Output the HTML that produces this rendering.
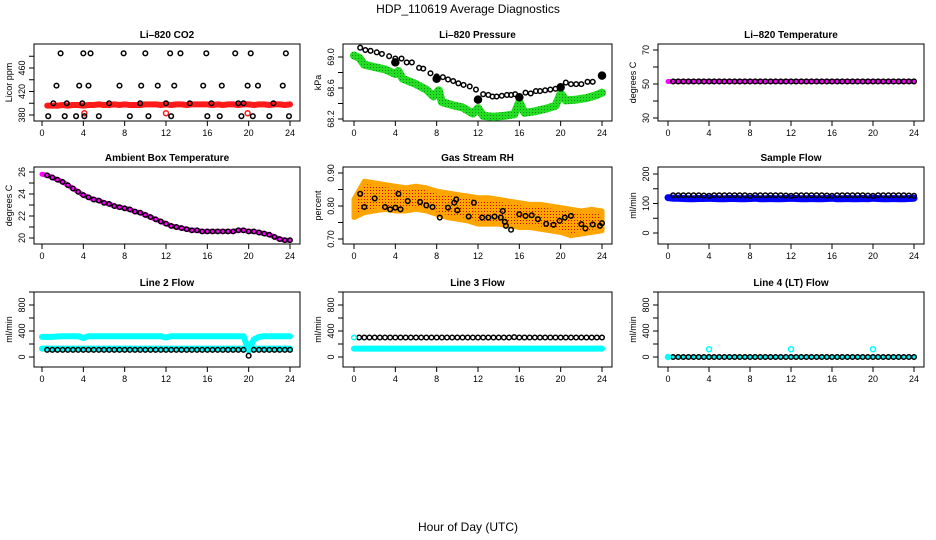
<!DOCTYPE html>
<html><head><meta charset="utf-8"><style>
html,body{margin:0;padding:0;background:#fff}
svg{display:block;font-family:"Liberation Sans",Arial,sans-serif}
</style></head><body>
<svg id="c" width="936" height="540" viewBox="0 0 936 540">
<text x="468" y="13" text-anchor="middle" font-size="12">HDP_110619  Average Diagnostics</text>
<text x="468" y="531" text-anchor="middle" font-size="12">Hour of Day (UTC)</text>
</svg>
<script>
// shared hour grid (half-hour)
const H=[0.5,1,1.5,2,2.5,3,3.5,4,4.5,5,5.5,6,6.5,7,7.5,8,8.5,9,9.5,10,10.5,11,11.5,12,12.5,13,13.5,14,14.5,15,15.5,16,16.5,17,17.5,18,18.5,19,19.5,20,20.5,21,21.5,22,22.5,23,23.5,24];
const xTicks=[0,4,8,12,16,20,24];
// CO2
const co2BlackH=[0.6,1.1,1.4,1.8,2.2,2.4,3.3,3.6,3.9,4.0,4.1,4.5,4.7,5.5,6.5,7.5,7.9,8.5,9.5,9.6,10,10.3,11.2,12,12.4,12.5,12.8,13.4,14.3,15.6,15.9,16,16.4,17.2,17.4,18.7,19,19.3,19.5,19.9,20.2,20.4,20.9,22,22.4,23.3,23.6,23.9];
const co2BlackV=[378,400,430,485,378,400,378,430,400,485,378,430,485,378,400,430,485,378,400,430,485,378,430,400,485,378,430,485,400,430,485,378,400,378,430,485,400,378,400,430,485,378,430,378,400,430,485,378];
const co2Red=[396,396,396,397,396,397,397,396,397,397,398,397,397,398,397,398,397,397,397,398,398,398,397,398,397,398,398,397,398,398,398,398,397,398,397,398,398,397,398,398,397,398,398,397,398,398,397,398];
const co2RedDipH=[4.1,12,19.9];
const co2RedDipV=[383,383,383];
// Pressure
const presBlackH=[0.6,1.1,1.6,2.2,2.7,3.4,4,4.6,5.1,5.6,6.3,6.7,7.4,8,8.6,9.1,9.6,10.1,10.6,11.2,11.8,12.5,13,13.4,13.8,14.3,14.8,15.2,15.6,16.6,17.1,17.6,18,18.5,19,19.5,20.5,21,21.5,22,22.6,23.1];
const presBlackV=[69.12,69.09,69.08,69.06,69.04,69.01,68.98,68.98,68.93,68.93,68.86,68.85,68.79,68.75,68.74,68.71,68.69,68.66,68.64,68.62,68.58,68.52,68.51,68.49,68.49,68.50,68.51,68.51,68.52,68.54,68.53,68.56,68.56,68.57,68.58,68.59,68.67,68.65,68.65,68.65,68.68,68.68];
const presBigH=[4,8,12,16,20,24];
const presBigV=[68.93,68.72,68.45,68.48,68.61,68.76];
const presGreenH=[0,0.5,1,2,3,4,4.3,4.7,6,7,7.7,8.2,8.5,9.5,10.5,11.5,12,12.5,13.5,14.5,15.5,16,16.5,17.5,18.5,19.5,20,20.5,21.5,22.5,23.5,24];
const presGreenV=[69.02,68.99,68.90,68.87,68.84,68.78,68.82,68.72,68.65,68.58,68.49,68.57,68.42,68.38,68.35,68.27,68.34,68.24,68.23,68.24,68.26,68.42,68.28,68.30,68.33,68.37,68.53,68.44,68.45,68.47,68.51,68.54];
// Temperature
const tempV=[51.5,51.5,51.5,51.5,51.5,51.5,51.5,51.5,51.5,51.5,51.5,51.5,51.5,51.5,51.5,51.5,51.5,51.5,51.5,51.5,51.5,51.5,51.5,51.5,51.5,51.5,51.5,51.5,51.5,51.5,51.5,51.5,51.5,51.5,51.5,51.5,51.5,51.5,51.5,51.5,51.5,51.5,51.5,51.5,51.5,51.5,51.5,51.5];
// Ambient box temperature
const ambH=[0,0.5,1,1.5,2,2.5,3,3.5,4,4.5,5,5.5,6,6.5,7,7.5,8,8.5,9,9.5,10,10.5,11,11.5,12,12.5,13,13.5,14,14.5,15,15.5,16,16.5,17,17.5,18,18.5,19,19.5,20,20.5,21,21.5,22,22.5,23,23.5,24];
const ambV=[25.8,25.7,25.5,25.3,25.1,24.8,24.5,24.2,23.9,23.7,23.5,23.4,23.2,23.1,22.9,22.8,22.7,22.6,22.4,22.3,22.1,21.9,21.7,21.5,21.3,21.1,21.0,20.9,20.8,20.7,20.7,20.6,20.6,20.6,20.6,20.6,20.6,20.6,20.7,20.7,20.6,20.6,20.5,20.4,20.3,20.1,19.9,19.8,19.8];
// Gas stream RH
const rhBandH=[0,1,2,3,4,5,6,7,8,9,10,11,12,13,14,15,16,17,18,19,20,21,22,23,24];
const rhUpper=[0.82,0.875,0.87,0.865,0.86,0.855,0.86,0.855,0.845,0.84,0.835,0.83,0.825,0.825,0.82,0.815,0.81,0.805,0.805,0.80,0.795,0.79,0.785,0.79,0.785];
const rhLower=[0.765,0.78,0.785,0.79,0.785,0.785,0.79,0.785,0.775,0.765,0.76,0.755,0.745,0.745,0.745,0.74,0.735,0.735,0.73,0.725,0.72,0.71,0.715,0.72,0.725];
const rhBlackH=[0.6,1,2,3,3.5,4,4.3,4.5,5.2,6.4,7,7.6,8.3,9.1,9.7,9.9,10,11.1,11.6,12.4,13,13.6,14.2,14.4,14.6,14.7,15.2,16,16.6,17.2,17.8,18.6,19.3,19.9,20.4,21,22,22.4,23.1,23.8,24];
const rhBlackV=[0.837,0.797,0.823,0.797,0.79,0.795,0.837,0.79,0.815,0.812,0.802,0.797,0.765,0.795,0.81,0.82,0.787,0.768,0.81,0.765,0.765,0.768,0.765,0.785,0.752,0.74,0.728,0.775,0.77,0.772,0.76,0.746,0.743,0.755,0.765,0.77,0.745,0.732,0.744,0.74,0.748];
// Sample flow
const sfBlue=[118,118,117,116,116,117,117,118,117,116,116,117,117,116,116,117,118,116,116,117,116,116,117,118,117,116,116,117,116,116,117,118,116,116,117,116,116,117,116,118,117,116,116,117,116,116,117,118];
const sfBlack=[128,128,128,128,128,128,127,126,128,128,128,128,128,128,128,126,128,128,128,128,128,128,127,126,128,128,128,128,128,128,127,126,128,128,128,128,128,128,127,126,128,128,128,128,128,128,127,126];
// Line 2 flow
const l2CyanHi=[310,310,315,320,320,320,320,290,320,320,320,320,320,320,320,320,320,320,320,320,320,320,320,300,320,320,320,320,320,320,320,320,320,320,320,320,320,320,320,100,270,310,320,320,320,320,320,320];
const l2CyanLo=[130,130,130,130,130,130,130,130,130,130,130,130,130,130,130,130,130,130,130,130,130,130,130,130,130,130,130,130,130,130,130,130,130,130,130,130,130,130,130,130,130,130,130,130,130,130,130,130];
const l2Black=[110,110,110,110,110,110,110,110,110,110,110,110,110,110,110,110,110,110,110,110,110,110,110,110,110,110,110,110,110,110,110,110,110,110,110,110,110,110,110,20,110,110,110,110,110,110,110,110];
// Line 3 flow
const l3Black=[300,300,300,300,300,300,300,300,300,300,300,300,300,300,300,300,300,300,300,300,300,300,300,300,300,300,300,300,300,300,305,300,300,300,300,300,300,300,300,300,300,300,300,300,300,300,300,300];
const l3Cyan=[130,130,130,130,130,130,130,130,130,130,130,130,130,130,130,130,130,130,130,130,130,130,130,130,130,130,130,130,130,130,130,130,130,130,130,130,130,130,130,130,130,130,130,130,130,130,130,130];
// Line 4 flow
const l4Black=[0,0,0,0,0,0,0,0,0,0,0,0,0,0,0,0,0,0,0,0,0,0,0,0,0,0,0,0,0,0,0,0,0,0,0,0,0,0,0,0,0,0,0,0,0,0,0,0];
const l4SpikeH=[4,12,20];
const l4SpikeV=[120,120,120];

const NS="http://www.w3.org/2000/svg";
const svg=document.getElementById('c');
function el(tag,attrs,parent){const e=document.createElementNS(NS,tag);for(const k in attrs)e.setAttribute(k,attrs[k]);(parent||svg).appendChild(e);return e;}

const cols=[{x0:34,x1:300,t0:42,t1:290},{x0:343,x1:612,t0:354,t1:602},{x0:658,x1:924,t0:668,t1:914}];
const rows=[{y0:44,y1:121},{y0:167,y1:244},{y0:292,y1:367}];

function panel(name,title,col,row,yMin,yMax,yMinPx,yMaxPx,ticks,labels,ylab){
  const c=cols[col],r=rows[row];
  const g=el('g',{});
  
  
  const xs=h=>c.t0+(c.t1-c.t0)*h/24;
  const ys=v=>yMinPx+(yMaxPx-yMinPx)*(v-yMin)/(yMax-yMin);
  const box=el('rect',{x:c.x0,y:r.y0,width:c.x1-c.x0,height:r.y1-r.y0,fill:'none',stroke:'#000','stroke-width':1},g);
  
  
  const t=el('text',{x:(c.x0+c.x1)/2,y:r.y0-6,'text-anchor':'middle','font-size':10,'font-weight':'bold'},g);
  t.textContent=title;
  
  
  const xa=el('g',{},g);
  
  
  el('line',{x1:xs(0),x2:xs(24),y1:r.y1,y2:r.y1,stroke:'#000'},xa);
  xTicks.forEach(h=>{el('line',{x1:xs(h),x2:xs(h),y1:r.y1,y2:r.y1+5,stroke:'#000'},xa);
    const l=el('text',{x:xs(h),y:r.y1+15,'text-anchor':'middle','font-size':9},xa);l.textContent=h;});
  const ya=el('g',{},g);
  
  
  el('line',{x1:c.x0,x2:c.x0,y1:ys(ticks[0]),y2:ys(ticks[ticks.length-1]),stroke:'#000'},ya);
  ticks.forEach(v=>{el('line',{x1:c.x0-5,x2:c.x0,y1:ys(v),y2:ys(v),stroke:'#000'},ya);});
  labels.forEach(s=>{const y=ys(parseFloat(s));const l=el('text',{x:c.x0-9,y:y,'text-anchor':'middle','font-size':9,transform:`rotate(-90 ${c.x0-9} ${y})`},ya);l.textContent=s;});
  const yl=el('text',{x:c.x0-22,y:(r.y0+r.y1)/2,'text-anchor':'middle','font-size':9,transform:`rotate(-90 ${c.x0-22} ${(r.y0+r.y1)/2})`},g);
  yl.textContent=ylab;
  
  
  const clipId='clip-'+name;
  const cp=el('clipPath',{id:clipId},g);el('rect',{x:c.x0,y:r.y0,width:c.x1-c.x0,height:r.y1-r.y0},cp);
  const m=el('g',{'clip-path':`url(#${clipId})`},g);
  return {xs,ys,m};
}
function pts(p,hs,vs,name,color,r,fill,sw){
  const g=el('g',{},p.m);
  
  
  hs.forEach((h,i)=>{el('circle',{cx:p.xs(h),cy:p.ys(vs[i]),r:r,fill:fill||'none',stroke:color,'stroke-width':sw||1.5},g);});
}
function line(p,hs,vs,name,color,w){
  const d=hs.map((h,i)=>(i?'L':'M')+p.xs(h).toFixed(1)+','+p.ys(vs[i]).toFixed(1)).join('');
  const e=el('path',{d:d,fill:'none',stroke:color,'stroke-width':w,'stroke-linejoin':'round','stroke-linecap':'round'},p.m);
  
  
}

// pattern for RH cloud
const defs=el('defs',{});
const pat=el('pattern',{id:'rhpat',width:3,height:3,patternUnits:'userSpaceOnUse'},defs);
el('rect',{width:3,height:3,fill:'#FFA500'},pat);el('rect',{x:1,y:1,width:1,height:1,fill:'#E00000'},pat);
const gpat=el('pattern',{id:'gpat',width:3,height:3,patternUnits:'userSpaceOnUse'},defs);
el('rect',{width:3,height:3,fill:'#22DD22'},gpat);el('rect',{x:1,y:1,width:1,height:1,fill:'#118811'},gpat);

// P1
let p=panel('co2','Li\u2013820 CO2',0,0,380,460,115,68,[380,400,420,440,460,480],['380','420','460'],'Licor ppm');
line(p,H,co2Red,'co2-red-series','#ff1a1a',6);
pts(p,co2RedDipH,co2RedDipV,'co2-red-dips','#ff1a1a',2.5);
pts(p,co2BlackH,co2BlackV,'co2-black-points','#000',2.3);
// P2
p=panel('pressure','Li\u2013820 Pressure',1,0,68.2,69.0,119,57,[68.2,68.4,68.6,68.8,69.0],['68.2','68.6','69.0'],'kPa');
line(p,presGreenH,presGreenV,'pressure-green-series','url(#gpat)',8);
pts(p,presBlackH,presBlackV,'pressure-black-points','#000',2.3);
pts(p,presBigH,presBigV,'pressure-hourly-points','#000',3.5,'#000');
// P3
p=panel('temperature','Li\u2013820 Temperature',2,0,30,70,118,50,[30,40,50,60,70],['30','50','70'],'degrees C');
line(p,[0].concat(H),[51.5].concat(tempV),'temperature-magenta-series','#ff00ff',5);
pts(p,H,tempV,'temperature-black-points','#000',2.3);
// P4
p=panel('ambient','Ambient Box Temperature',0,1,20,26,238,172,[20,21,22,23,24,25,26],['20','22','24','26'],'degrees C');
line(p,ambH,ambV,'ambient-magenta-series','#ff00ff',5);
pts(p,ambH.slice(1),ambV.slice(1),'ambient-black-points','#000',2.2);
// P5
p=panel('rh','Gas Stream RH',1,1,0.70,0.90,239,173,[0.70,0.75,0.80,0.85,0.90],['0.70','0.80','0.90'],'percent');
{const d=rhBandH.map((h,i)=>(i?'L':'M')+p.xs(h)+','+p.ys(rhUpper[i])).join('')+rhBandH.slice().reverse().map((h,j)=>{const i=rhBandH.length-1-j;return 'L'+p.xs(h)+','+p.ys(rhLower[i]);}).join('')+'Z';
 const e=el('path',{d:d,fill:'url(#rhpat)',stroke:'#FFA500','stroke-width':5,'stroke-linejoin':'round'},p.m);
 
 }
pts(p,rhBlackH,rhBlackV,'rh-black-points','#000',2.3);
// P6
p=panel('sample-flow','Sample Flow',2,1,0,200,233,174,[0,50,100,150,200],['0','100','200'],'ml/min');
line(p,[0].concat(H),[120].concat(sfBlue),'sample-flow-blue-series','#0000ff',7);
pts(p,H,sfBlack,'sample-flow-black-points','#000',2.3);
// P7
p=panel('line2','Line 2 Flow',0,2,0,400,357,331,[0,200,400,600,800,1000],['0','400','800'],'ml/min');
line(p,[0].concat(H),[310].concat(l2CyanHi),'line2-cyan-high','#00ffff',6);
line(p,[0].concat(H),[130].concat(l2CyanLo),'line2-cyan-low','#00ffff',6);
pts(p,H,l2Black,'line2-black-points','#000',2.3);
// P8
p=panel('line3','Line 3 Flow',1,2,0,400,357,331,[0,200,400,600,800,1000],['0','400','800'],'ml/min');
line(p,[0].concat(H),[130].concat(l3Cyan),'line3-cyan-series','#00ffff',6);
pts(p,H,l3Black,'line3-black-points','#000',2.3);
pts(p,[0],[300],'line3-first-point','#00ffff',2.3);
// P9
p=panel('line4','Line 4 (LT) Flow',2,2,0,400,357,331,[0,200,400,600,800,1000],['0','400','800'],'ml/min');
line(p,[0].concat(H),[0].concat(l4Black),'line4-cyan-series','#00ffff',4);
pts(p,H,l4Black,'line4-black-points','#000',2.3);
pts(p,l4SpikeH,l4SpikeV,'line4-cyan-spikes','#00ffff',2.5);
pts(p,[0],[0],'line4-first-point','#00ffff',2.5,'#00ffff');
</script>
</body></html>
